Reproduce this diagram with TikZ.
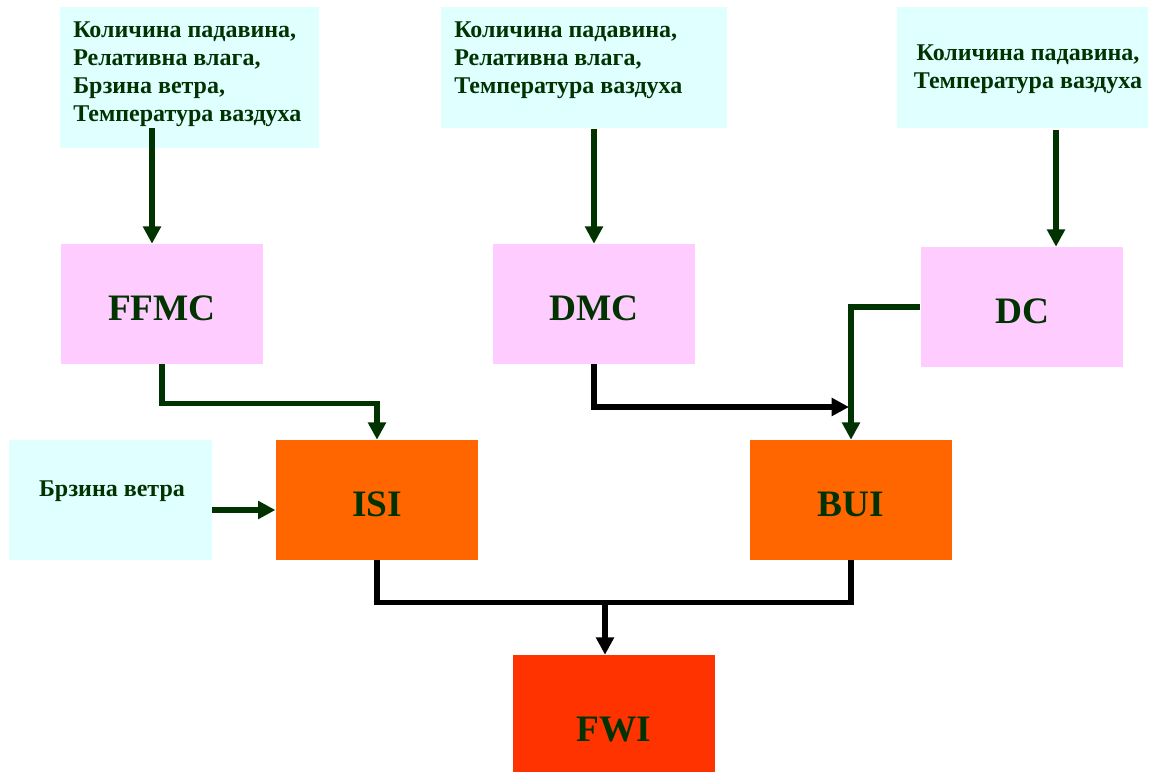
\documentclass[tikz,border=0pt]{standalone}
\usepackage{fontspec}
\setmainfont{Liberation Serif}
\usepackage{tikz}
\usetikzlibrary{arrows.meta}

\definecolor{inputfill}{RGB}{224,255,255}
\definecolor{codefill}{RGB}{255,204,255}
\definecolor{indexfill}{RGB}{255,102,0}
\definecolor{fwifill}{RGB}{255,51,0}
\definecolor{darkgreen}{RGB}{0,51,0}

\begin{document}
\begin{tikzpicture}[x=0.75pt,y=0.75pt,yscale=-1,xscale=1,
  inbox/.style={fill=inputfill,inner sep=0pt,anchor=north west},
  intext/.style={inner sep=0pt,text=darkgreen,align=left,font=\fontsize{18}{21}\bfseries\selectfont},
  codebox/.style={fill=codefill,minimum width=152pt,minimum height=90pt,inner sep=0pt,text height=25pt,text=darkgreen,font=\fontsize{28}{30}\bfseries\selectfont},
  indexbox/.style={codebox,fill=indexfill},
  feed/.style={draw=darkgreen,line width=4pt,-{Triangle[length=13pt,width=13pt]}},
  sum/.style={feed,draw=black}]
\useasboundingbox (0,0) rectangle (1151,771);

%Shape: input boxes
\node [inbox,minimum width=194.25pt,minimum height=105.75pt] (in1) at (60,7) {};
\node [inbox,minimum width=214.5pt,minimum height=90.75pt] (in2) at (441,7) {};
\node [inbox,minimum width=188.25pt,minimum height=90.75pt] (in3) at (897,7) {};
\node [fill=inputfill,minimum width=152pt,minimum height=90pt,inner sep=0pt] (wind) at (110.5,500) {};

% Text Node
\node [intext,anchor=north west] (in1txt) at (73,22) {Количина падавина,\\Релативна влага,\\Брзина ветра,\\Температура ваздуха};
% Text Node
\node [intext,anchor=north west] (in2txt) at (454,22) {Количина падавина,\\Релативна влага,\\Температура ваздуха};
% Text Node
\node [intext,align=center] (in3txt) at (1028,69) {Количина падавина,\\Температура ваздуха};
% Text Node
\node [intext] (windtxt) at (112,491) {Брзина ветра};

%Shape: code boxes
\node [codebox] (ffmc) at (162,304) {FFMC};
\node [codebox] (dmc) at (594,304) {DMC};
\node [codebox] (dc) at (1022,307) {DC};

%Shape: index boxes
\node [indexbox] (isi) at (377,500) {ISI};
\node [indexbox] (bui) at (851,500) {BUI};
\node [indexbox,fill=fwifill,minimum height=105pt] (fwi) at (614,725) {FWI};

%Lines: inputs to codes
\coordinate (s1) at (152,128);
\coordinate (s3) at (1056,130);
\draw [feed] (s1) -- (s1 |- ffmc.north);
\draw [feed] (in2.south -| dmc.north) -- (dmc.north);
\draw [feed] (s3) -- (s3 |- dc.north);

%Lines: codes to indices
\draw [feed] (ffmc.south) -- ++(0,39) -| (isi.north);
\coordinate (m1) at (849,407);
\draw [sum] (dmc.south) |- (m1);
\draw [feed] (dc.west) -| (bui.north);
\draw [feed] ([yshift=7.5pt]wind.east) -- ([yshift=7.5pt]isi.west);

%Lines: indices to FWI
\draw [draw=black,line width=4pt] (isi.south) -- ++(0,42) -| (bui.south);
\coordinate (j1) at (605,602);
\draw [sum] (j1) -- (j1 |- fwi.north);

\end{tikzpicture}
\end{document}
